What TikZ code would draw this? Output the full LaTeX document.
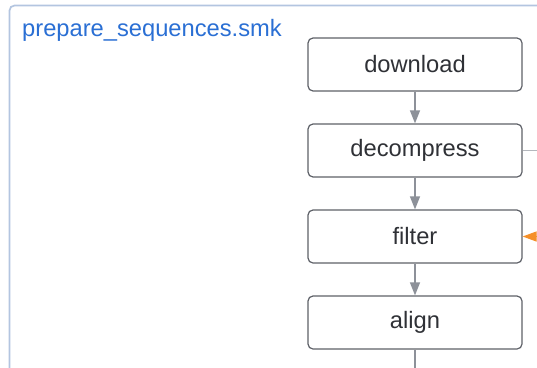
\documentclass[tikz,border=0pt]{standalone}
\usepackage{fontspec}
\setmainfont{Liberation Sans}
\usetikzlibrary{arrows.meta}
\definecolor{framec}{HTML}{B3C5E0}
\definecolor{titlec}{HTML}{2A6FD4}
\definecolor{boxline}{HTML}{5E6168}
\definecolor{boxtext}{HTML}{2F3136}
\definecolor{flowc}{HTML}{8D9199}
\definecolor{linkc}{HTML}{B4B7BD}
\definecolor{hotc}{HTML}{F5902A}
\tikzset{
  x=1pt, y=-1pt,
  stepbox/.style={draw=boxline, line width=1.2pt, rounded corners=5pt, fill=white,
    minimum width=214pt, minimum height=53pt, inner sep=0pt,
    font=\fontsize{23.7}{27}\selectfont, text=boxtext},
  flow/.style={draw=flowc, line width=1.2pt, -{Triangle[length=13pt, width=10pt]}},
  hotflow/.style={draw=hotc, line width=1.2pt, -{Triangle[length=14pt, width=10pt]}},
  link/.style={draw=linkc, line width=1.2pt}
}
\begin{document}
\begin{tikzpicture}
  \useasboundingbox (0,0) rectangle (537,367);
  \clip (0,0) rectangle (537,367);
  \fill[white] (0,0) rectangle (537,367);

  % workflow file frame
  \draw[framec, line width=1.7pt, rounded corners=5pt] (560,5.5) -- (9.5,5.5) -- (9.5,390);
  \node[anchor=base west, text=titlec, font=\fontsize{23.7}{27}\selectfont, inner sep=0pt]
    (title) at (22,36) {prepare\_sequences.smk};

  % rules
  \node[stepbox] (download)   at (415,64.5)  {download};
  \node[stepbox] (decompress) at (415,150.5) {decompress};
  \node[stepbox] (filter)     at (415,236.5) {filter};
  \node[stepbox] (align)      at (415,322.5) {align};

  \coordinate (out1) at (545,150.5);
  \coordinate (in1)  at (545,236.5);
  \coordinate (down) at (415,380);

  \draw[flow] (download) -- (decompress);
  \draw[flow] (decompress) -- (filter);
  \draw[flow] (filter) -- (align);
  \draw[link] (decompress.east) -- (out1);
  \draw[hotflow] (in1) -- (filter.east);
  \draw[flow, -] (align.south) -- (down);
\end{tikzpicture}
\end{document}
